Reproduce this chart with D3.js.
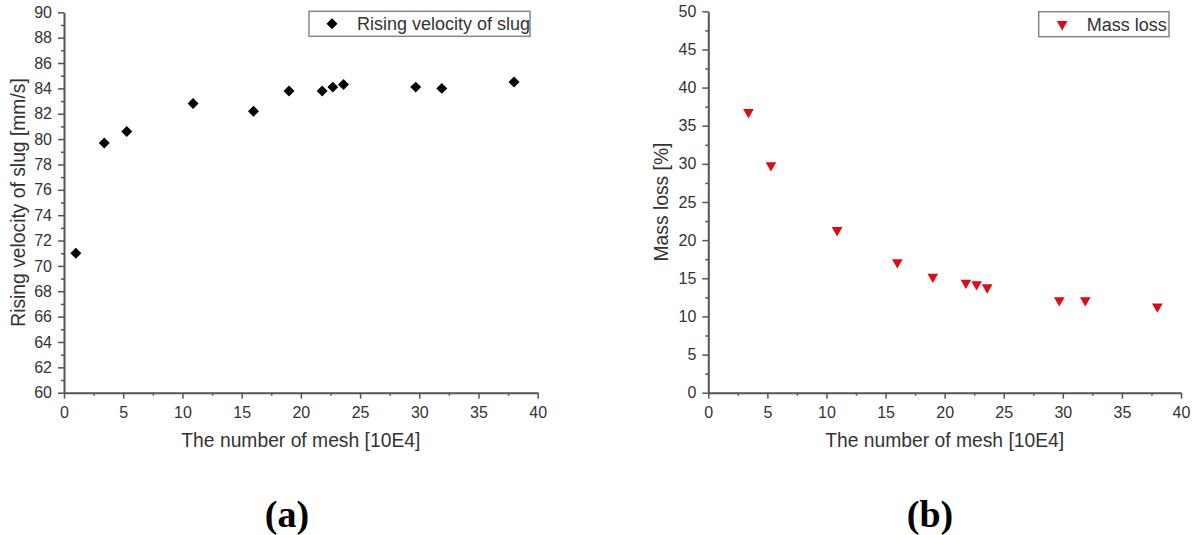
<!DOCTYPE html>
<html>
<head>
<meta charset="utf-8">
<script src="https://cdn.jsdelivr.net/npm/d3@7"></script>
<style>
  html, body { margin: 0; padding: 0; background: #fff; }
  svg { display: block; }
  .tick text { font-family: "Liberation Sans", Arial, sans-serif; font-size: 16px; fill: #333; }
  .axis path, .axis line { stroke: #555; }
</style>
</head>
<body>
<svg id="chart" width="1197" height="535"></svg>
<script>
// Mesh-independence study: slug rising velocity and mass loss vs. mesh count
const meshCount = [1.0, 3.4, 5.3, 10.9, 16.0, 19.0, 21.8, 22.7, 23.6, 29.7, 31.9, 38.0];
const risingVelocity = [71.0, 79.7, 80.6, 82.8, 82.2, 83.8, 83.8, 84.1, 84.3, 84.1, 84.0, 84.5];
const massMesh = [3.4, 5.3, 10.9, 16.0, 19.0, 21.8, 22.7, 23.6, 29.7, 31.9, 38.0];
const massLoss = [36.8, 29.8, 21.3, 17.1, 15.2, 14.4, 14.2, 13.8, 12.1, 12.1, 11.3];

const xTicks = [0, 5, 10, 15, 20, 25, 30, 35, 40];
const velocityTicks = [60, 62, 64, 66, 68, 70, 72, 74, 76, 78, 80, 82, 84, 86, 88, 90];
const massTicks = [0, 5, 10, 15, 20, 25, 30, 35, 40, 45, 50];

const xTitle = "The number of mesh [10E4]";
const svg = d3.select("#chart");
const sans = "'Liberation Sans', Arial, sans-serif";

function panel(cfg) {
  const x = d3.scaleLinear().domain([0, 40]).range([cfg.left, cfg.right]);
  const y = d3.scaleLinear().domain(cfg.yDomain).range([cfg.bottom, cfg.top]);
  const g = svg.append("g");

  // minor ticks
  const xMinor = d3.range(0, 40.01, 2.5).filter(v => v % 5 !== 0);
  g.append("g").attr("class", "axis")
    .attr("transform", `translate(0,${cfg.bottom})`)
    .call(d3.axisBottom(x).tickValues(xMinor).tickSize(3).tickFormat(""))
    .call(s => s.select(".domain").remove())
    .selectAll("line").attr("stroke-width", 1.5);
  g.append("g").attr("class", "axis")
    .attr("transform", `translate(${cfg.left},0)`)
    .call(d3.axisLeft(y).tickValues(cfg.yMinor).tickSize(3).tickFormat(""))
    .call(s => s.select(".domain").remove())
    .selectAll("line").attr("stroke-width", 1.5);

  // major axes
  const xa = g.append("g").attr("class", "axis")
    .attr("transform", `translate(0,${cfg.bottom})`)
    .call(d3.axisBottom(x).tickValues(xTicks).tickSize(6).tickSizeOuter(0).tickPadding(8).tickFormat(d3.format("d")));
  xa.select(".domain").attr("stroke-width", 2);
  xa.selectAll("line").attr("stroke-width", 1.5);

  const ya = g.append("g").attr("class", "axis")
    .attr("transform", `translate(${cfg.left},0)`)
    .call(d3.axisLeft(y).tickValues(cfg.yTicks).tickSize(6).tickSizeOuter(0).tickPadding(6).tickFormat(d3.format("d")));
  ya.select(".domain").attr("stroke-width", 2);
  ya.selectAll("line").attr("stroke-width", 1.5);

  // axis titles
  g.append("text")
    .attr("x", (cfg.left + cfg.right) / 2).attr("y", 447)
    .attr("text-anchor", "middle")
    .style("font-family", sans).style("font-size", "19.3px").style("fill", "#333")
    .text(xTitle);
  g.append("text")
    .attr("transform", `translate(${cfg.yTitleX},${(cfg.top + cfg.bottom) / 2}) rotate(-90)`)
    .attr("text-anchor", "middle")
    .style("font-family", sans).style("font-size", "19.3px").style("fill", "#333")
    .text(cfg.yTitle);

  // markers
  g.append("g").selectAll("path")
    .data(cfg.xs.map((v, i) => [v, cfg.ys[i]]))
    .join("path")
    .attr("transform", d => `translate(${x(d[0])},${y(d[1])}) rotate(${cfg.rot})`)
    .attr("d", cfg.symbol)
    .attr("fill", cfg.color);

  // legend
  const lg = g.append("g");
  lg.append("rect")
    .attr("x", cfg.legend.x).attr("y", cfg.legend.y)
    .attr("width", cfg.legend.w).attr("height", 25)
    .attr("fill", "#fff").attr("stroke", "#888").attr("stroke-width", 1.5);
  lg.append("path")
    .attr("transform", `translate(${cfg.legend.x + cfg.legend.mark},${cfg.legend.y + 12.5}) rotate(${cfg.rot})`)
    .attr("d", cfg.symbol).attr("fill", cfg.color);
  lg.append("text")
    .attr("x", cfg.legend.x + cfg.legend.text).attr("y", cfg.legend.y + 19)
    .style("font-family", sans).style("font-size", "18px").style("fill", "#333")
    .text(cfg.legend.label);

  // panel caption
  g.append("text")
    .attr("x", cfg.captionX).attr("y", 527)
    .attr("text-anchor", "middle")
    .style("font-family", "'Liberation Serif', 'Times New Roman', serif")
    .style("font-size", "38px").style("font-weight", "bold").style("fill", "#000")
    .text(cfg.caption);
}

const diamond = d3.symbol(d3.symbolSquare, 60)();
const triangle = d3.symbol(d3.symbolTriangle, 50)();

panel({
  left: 64, right: 537.7, top: 12.3, bottom: 392.7,
  yDomain: [60, 90], yTicks: velocityTicks,
  yMinor: d3.range(61, 90, 2),
  yTitle: "Rising velocity of slug [mm/s]", yTitleX: 25,
  xs: meshCount, ys: risingVelocity,
  symbol: diamond, rot: 45, color: "#000",
  legend: { x: 309, y: 11.3, w: 221, mark: 23, text: 48, label: "Rising velocity of slug" },
  caption: "(a)", captionX: 287
});

panel({
  left: 708.3, right: 1181, top: 11.3, bottom: 392.7,
  yDomain: [0, 50], yTicks: massTicks,
  yMinor: d3.range(2.5, 50, 5),
  yTitle: "Mass loss [%]", yTitleX: 668,
  xs: massMesh, ys: massLoss,
  symbol: triangle, rot: 180, color: "#e00a14",
  legend: { x: 1038.7, y: 11.7, w: 130.3, mark: 23.5, text: 48, label: "Mass loss" },
  caption: "(b)", captionX: 930
});
</script>
</body>
</html>
